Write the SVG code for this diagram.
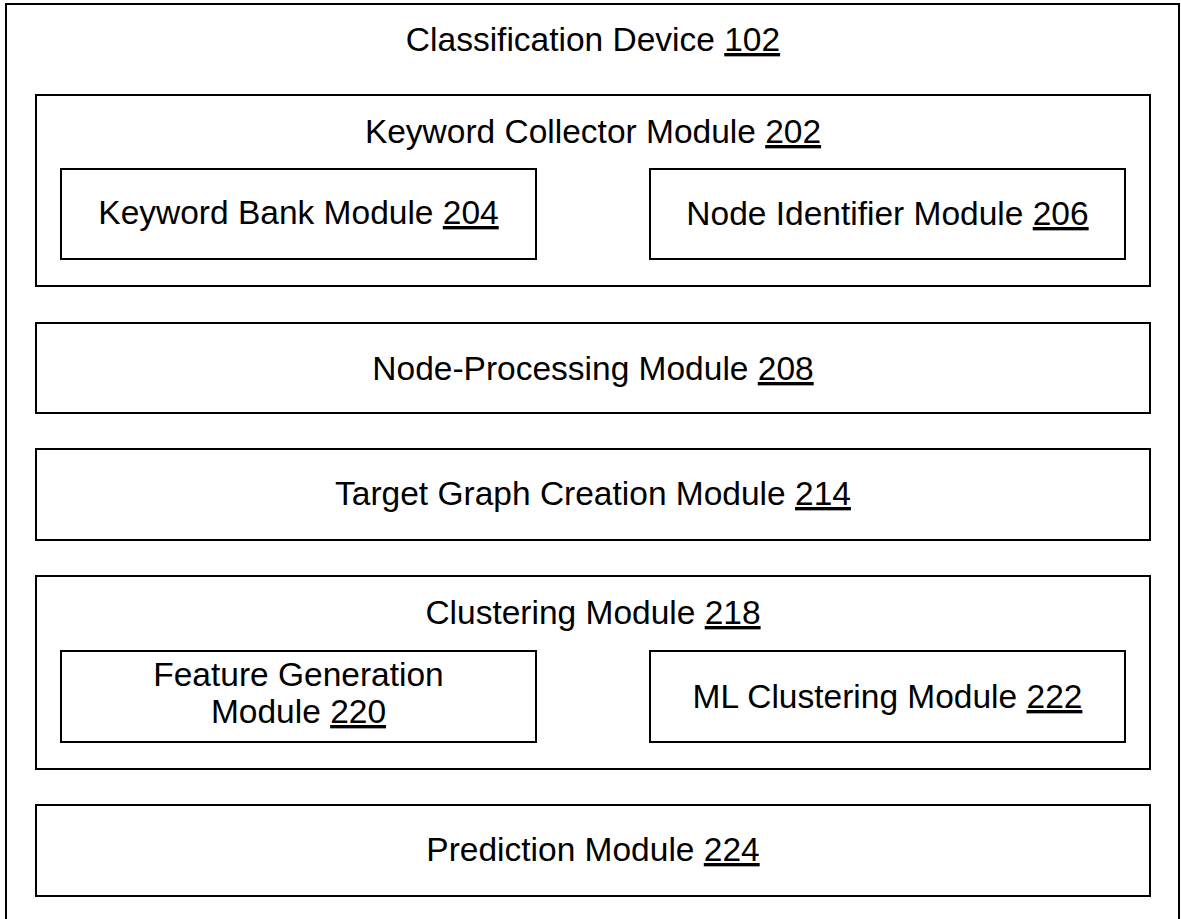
<svg xmlns="http://www.w3.org/2000/svg" width="1181" height="919" viewBox="0 0 1181 919">
  <style>
    .box { fill: none; stroke: #000; stroke-width: 2; }
    .lbl { font-family: "Liberation Sans", Arial, sans-serif; font-size: 33.5px; fill: #000; text-anchor: middle; }
    .ref { text-decoration: underline; }
  </style>
  <rect width="1181" height="919" fill="#fff"/>

  <g id="classification-device-102">
    <rect class="box" x="6" y="4" width="1173" height="930"/>
    <text class="lbl" x="593" y="51">Classification Device <tspan class="ref">102</tspan></text>
  </g>

  <g id="keyword-collector-module-202">
    <rect class="box" x="36" y="95" width="1114" height="191"/>
    <text class="lbl" x="593" y="143">Keyword Collector Module <tspan class="ref">202</tspan></text>
  </g>

  <g id="keyword-bank-module-204">
    <rect class="box" x="61" y="169" width="475" height="90"/>
    <text class="lbl" x="298.5" y="224">Keyword Bank Module <tspan class="ref">204</tspan></text>
  </g>

  <g id="node-identifier-module-206">
    <rect class="box" x="650" y="169" width="475" height="90"/>
    <text class="lbl" x="887.5" y="225">Node Identifier Module <tspan class="ref">206</tspan></text>
  </g>

  <g id="node-processing-module-208">
    <rect class="box" x="36" y="323" width="1114" height="90"/>
    <text class="lbl" x="593" y="380">Node-Processing Module <tspan class="ref">208</tspan></text>
  </g>

  <g id="target-graph-creation-module-214">
    <rect class="box" x="36" y="449" width="1114" height="91"/>
    <text class="lbl" x="593" y="505">Target Graph Creation Module <tspan class="ref">214</tspan></text>
  </g>

  <g id="clustering-module-218">
    <rect class="box" x="36" y="576" width="1114" height="193"/>
    <text class="lbl" x="593" y="624">Clustering Module <tspan class="ref">218</tspan></text>
  </g>

  <g id="feature-generation-module-220">
    <rect class="box" x="61" y="651" width="475" height="91"/>
    <text class="lbl" x="298.5" y="686">Feature Generation</text>
    <text class="lbl" x="298.5" y="723">Module <tspan class="ref">220</tspan></text>
  </g>

  <g id="ml-clustering-module-222">
    <rect class="box" x="650" y="651" width="475" height="91"/>
    <text class="lbl" x="887.5" y="708">ML Clustering Module <tspan class="ref">222</tspan></text>
  </g>

  <g id="prediction-module-224">
    <rect class="box" x="36" y="805" width="1114" height="91"/>
    <text class="lbl" x="593" y="861">Prediction Module <tspan class="ref">224</tspan></text>
  </g>

  <g id="connectors"></g>
</svg>
